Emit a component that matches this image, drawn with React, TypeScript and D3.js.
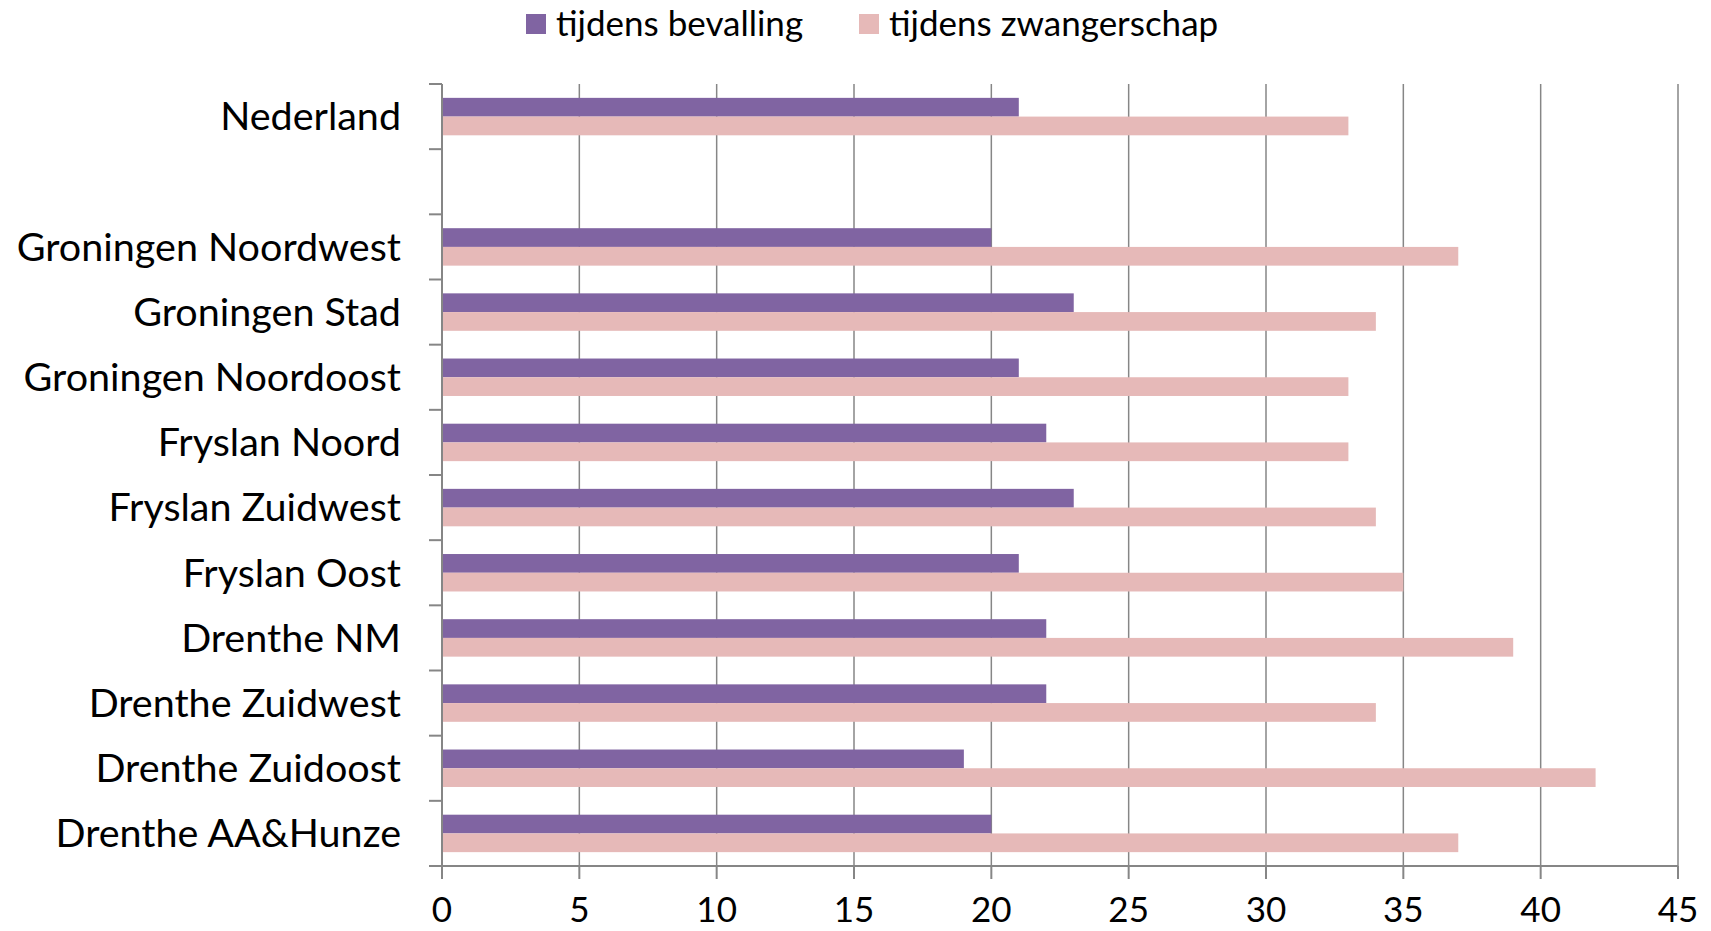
import React, { useEffect, useRef } from 'react';
import * as d3 from 'd3';

// categories top to bottom, the empty one is the gap under Nederland
const categories = [
  'Nederland',
  '',
  'Groningen Noordwest',
  'Groningen Stad',
  'Groningen Noordoost',
  'Fryslan Noord',
  'Fryslan Zuidwest',
  'Fryslan Oost',
  'Drenthe NM',
  'Drenthe Zuidwest',
  'Drenthe Zuidoost',
  'Drenthe AA&Hunze',
];
const bevalling = [21, null, 20, 23, 21, 22, 23, 21, 22, 22, 19, 20];
const zwangerschap = [33, null, 37, 34, 33, 33, 34, 35, 39, 34, 42, 37];
const seriesNames = ['tijdens bevalling', 'tijdens zwangerschap'];
const seriesColors = ['#8064A2', '#E6B9B8'];
const xTicks = [0, 5, 10, 15, 20, 25, 30, 35, 40, 45];

const W = 1711, H = 931;
const FONT = 'Lato, "Open Sans", sans-serif';

const App = () => {
  const svgRef = useRef(null);

  useEffect(() => {
    const svg = d3.select(svgRef.current);
    svg.selectAll('*').remove();

    const left = 442, right = 1678, top = 84, bottom = 866;
    const keys = categories.map((c, i) => String(i));
    const x = d3.scaleLinear().domain([0, 45]).range([left, right]);
    const y = d3.scaleBand().domain(keys).range([top, bottom]).padding(0);
    const sub = d3.scaleBand().domain(seriesNames).range([0, y.bandwidth()]).paddingInner(0).paddingOuter(0.74);

    const g = svg.append('g');

    // vertical gridlines
    g.selectAll('.grid')
      .data(xTicks.slice(1))
      .enter().append('line')
      .attr('x1', d => x(d)).attr('x2', d => x(d))
      .attr('y1', top).attr('y2', bottom)
      .attr('stroke', '#868686').attr('stroke-width', 1.5);

    // bars
    const rows = categories.map((c, i) => ({ key: keys[i], vals: [bevalling[i], zwangerschap[i]] }));
    rows.forEach(r => {
      r.vals.forEach((v, j) => {
        if (v == null) return;
        g.append('rect')
          .attr('x', x(0))
          .attr('y', (y(r.key) as number) + (sub(seriesNames[j]) as number))
          .attr('width', x(v) - x(0))
          .attr('height', sub.bandwidth())
          .attr('fill', seriesColors[j]);
      });
    });

    // y axis line and ticks at band edges
    const edges = keys.map(k => y(k) as number).concat([bottom]);
    g.append('line')
      .attr('x1', left).attr('x2', left).attr('y1', top).attr('y2', bottom)
      .attr('stroke', '#868686').attr('stroke-width', 2);
    g.selectAll('.ytick')
      .data(edges)
      .enter().append('line')
      .attr('x1', left - 13).attr('x2', left)
      .attr('y1', d => d).attr('y2', d => d)
      .attr('stroke', '#868686').attr('stroke-width', 2);

    // x axis line and ticks
    g.append('line')
      .attr('x1', left - 13).attr('x2', right).attr('y1', bottom).attr('y2', bottom)
      .attr('stroke', '#868686').attr('stroke-width', 2);
    g.selectAll('.xtick')
      .data(xTicks)
      .enter().append('line')
      .attr('x1', d => x(d)).attr('x2', d => x(d))
      .attr('y1', bottom).attr('y2', bottom + 13)
      .attr('stroke', '#868686').attr('stroke-width', 2);

    g.selectAll('.xlabel')
      .data(xTicks)
      .enter().append('text')
      .attr('x', d => x(d))
      .attr('y', 910)
      .attr('dy', '0.35em')
      .attr('text-anchor', 'middle')
      .style('font-family', FONT)
      .style('font-size', '35px')
      .attr('fill', '#000')
      .text(d => d);

    // category labels
    g.selectAll('.ylabel')
      .data(categories)
      .enter().append('text')
      .attr('x', 401)
      .attr('y', (d, i) => (y(keys[i]) as number) + y.bandwidth() / 2)
      .attr('dy', '0.35em')
      .attr('text-anchor', 'end')
      .style('font-family', FONT)
      .style('font-size', '39.5px')
      .attr('fill', '#000')
      .text(d => d);

    // legend
    const legendX = [526, 859];
    seriesNames.forEach((s, j) => {
      g.append('rect')
        .attr('x', legendX[j]).attr('y', 14)
        .attr('width', 20).attr('height', 20)
        .attr('fill', seriesColors[j]);
      g.append('text')
        .attr('x', legendX[j] + 30).attr('y', 24)
        .attr('dy', '0.35em')
        .style('font-family', FONT)
        .style('font-size', '35px')
        .attr('fill', '#000')
        .text(s);
    });
  }, []);

  return (
    <div style={{ position: 'absolute', left: 0, top: 0 }}>
      <svg ref={svgRef} width={W} height={H} style={{ display: 'block', background: '#fff' }} />
    </div>
  );
};

export default App;
